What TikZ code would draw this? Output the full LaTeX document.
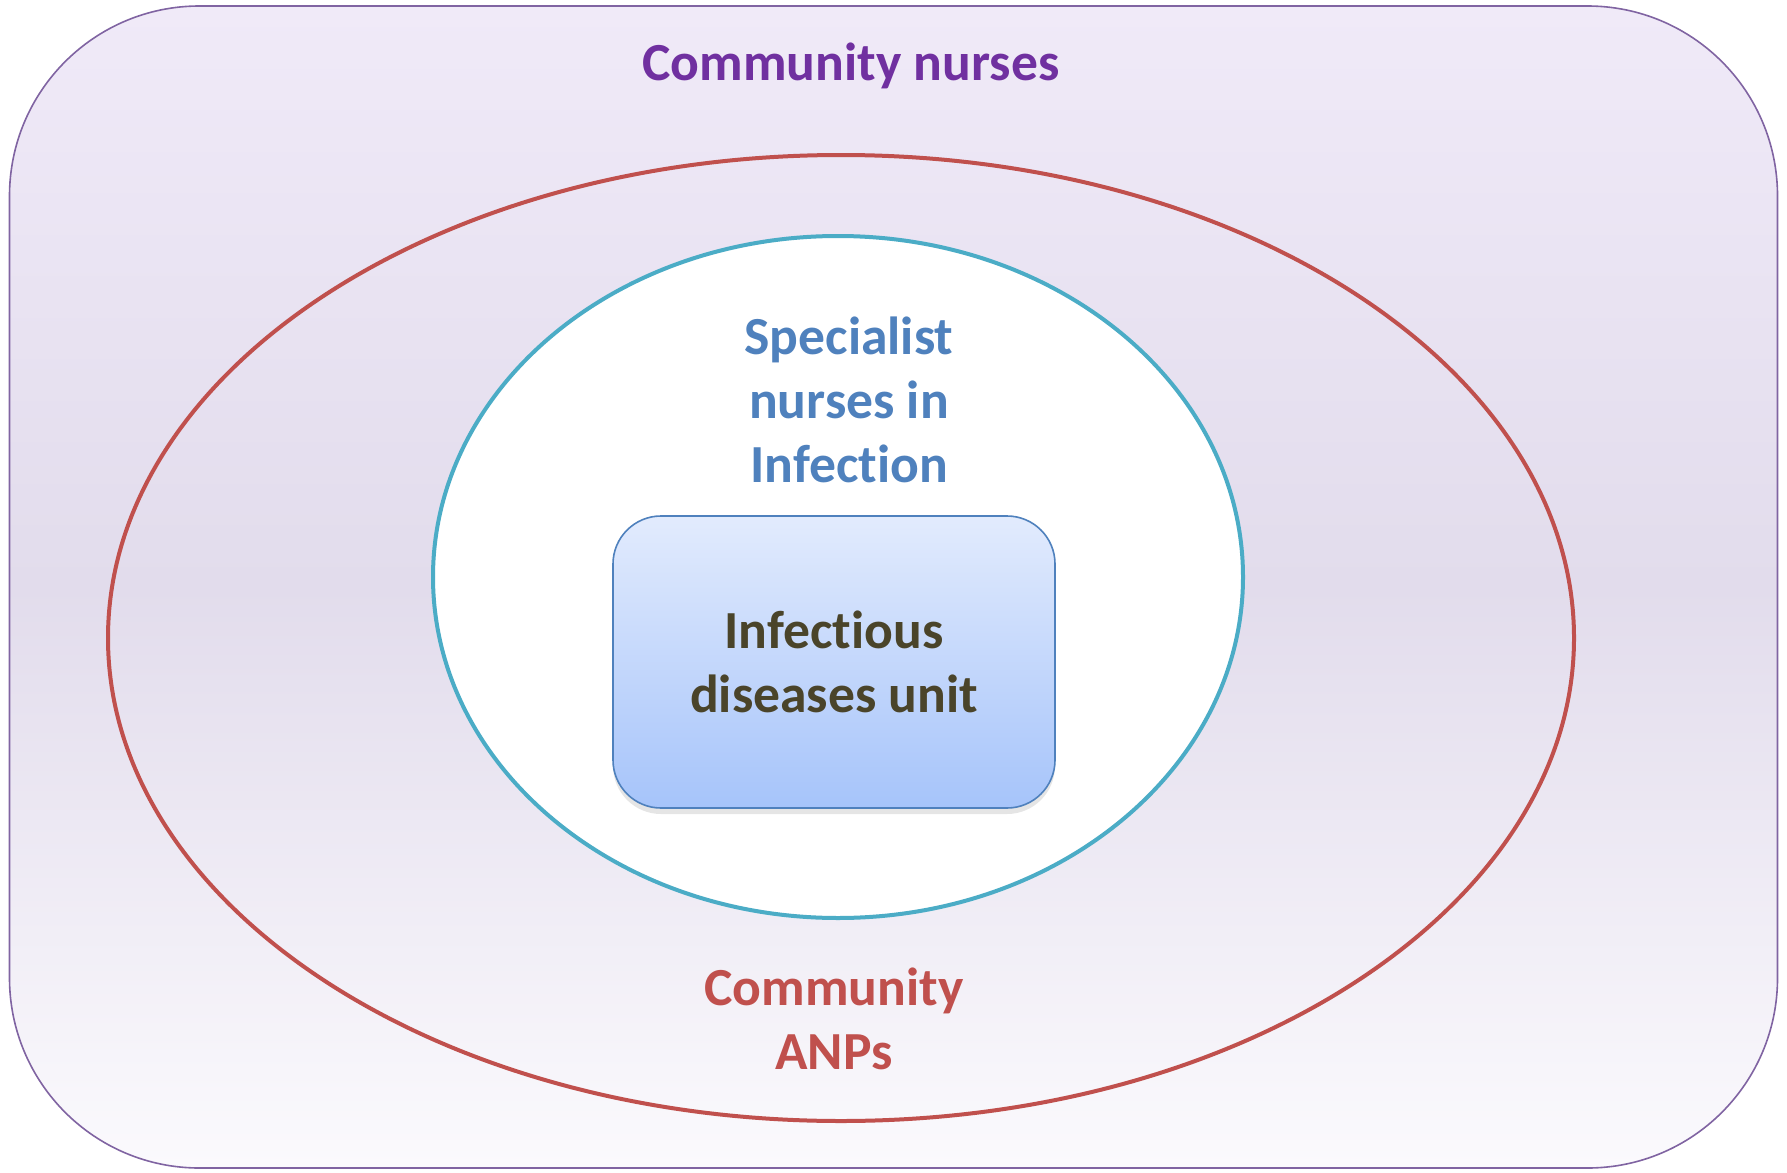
\documentclass[tikz,border=0pt]{standalone}
\usepackage{fontspec}
\setmainfont[Ligatures=NoCommon]{Carlito}
\usetikzlibrary{shapes.geometric,shadows}
\definecolor{nursepurple}{HTML}{7030A0}
\definecolor{frameline}{HTML}{8064A2}
\definecolor{anpred}{HTML}{C0504D}
\definecolor{specteal}{HTML}{4BACC6}
\definecolor{specblue}{HTML}{4F81BD}
\definecolor{unittext}{HTML}{4A442A}
\definecolor{lavtop}{RGB}{240,234,248}
\definecolor{lavmid}{RGB}{226,220,236}
\definecolor{lavbot}{RGB}{251,250,253}
\definecolor{unittop}{RGB}{226,235,253}
\definecolor{unitbot}{RGB}{166,196,250}
\begin{document}
\begin{tikzpicture}[x=0.5pt, y=-0.5pt,
		label/.style={font=\fontsize{26.8}{32}\selectfont\bfseries, align=center},
		ring/.style={ellipse, draw, line width=2pt, inner sep=0pt}
		]
	\useasboundingbox (0,0) rectangle (1787,1172);
	% outer frame
	\node [draw=frameline, line width=0.8pt, rounded corners=95pt,
		minimum width=884pt, minimum height=581pt, inner sep=0pt,
		top color=lavtop, bottom color=lavbot, middle color=lavmid] (frame) at (893.5,587) {};
	\node [label, text=nursepurple] (nurses) at (851,66) {Community nurses};
	% rings
	\node [ring, draw=anpred, minimum width=733pt, minimum height=483pt] (anps) at (841,638) {};
	\node [ring, draw=specteal, fill=white, minimum width=405pt, minimum height=341pt] (spec) at (838,577) {};
	\node [label, text=specblue] (spectext) at (849,400) {Specialist\\nurses in\\Infection};
	\node [label, text=anpred] (anptext) at (834,1019) {Community\\ANPs};
	% unit box
	\node [label, text=unittext, draw=specblue, line width=0.8pt, rounded corners=24pt,
		minimum width=221pt, minimum height=146pt,
		top color=unittop, bottom color=unitbot,
		drop shadow={opacity=0.2, shadow xshift=0pt, shadow yshift=-3pt}] (unit) at (834,662) {Infectious\\diseases unit};
\end{tikzpicture}
\end{document}
